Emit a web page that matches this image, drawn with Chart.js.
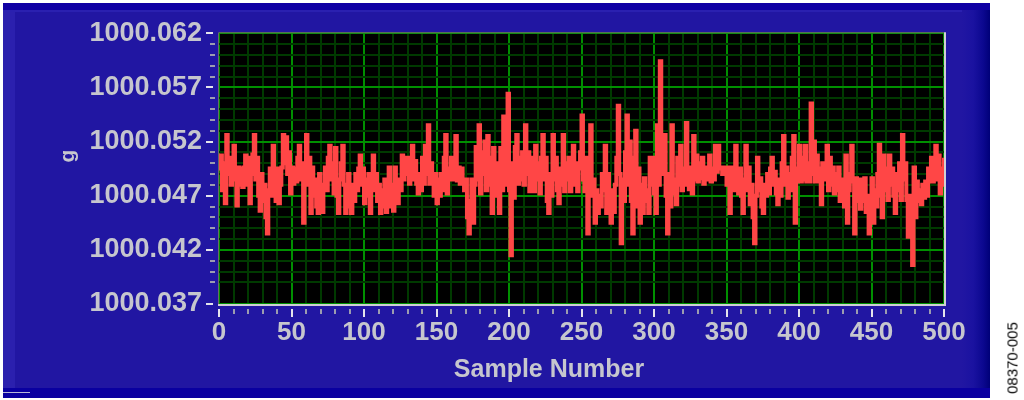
<!DOCTYPE html>
<html>
<head>
<meta charset="utf-8">
<script src="https://cdn.jsdelivr.net/npm/chart.js@4/dist/chart.umd.min.js"></script>
<style>
  html,body{margin:0;padding:0;background:#fff;}
  #wrap{position:relative;width:1024px;height:400px;overflow:hidden;}
  .blk{position:absolute;}
  #code{position:absolute;left:1012px;top:358px;width:0;height:0;}
  #code span{position:absolute;transform:translate(-50%,-50%) rotate(-90deg);white-space:nowrap;
    font:15px 'Liberation Sans',Arial,sans-serif;color:#000;}
</style>
</head>
<body>
<div id="wrap">
  <div class="blk" style="left:3px;top:3px;width:987px;height:395px;background:#2116A2;"></div>
  <div class="blk" style="left:3px;top:3px;width:987px;height:7px;background:#1000A4;"></div>
  <div class="blk" style="left:3px;top:10px;width:960px;height:2px;background:#2A20B0;"></div>
  <div class="blk" style="left:3px;top:12px;width:12px;height:376px;background:#2B20AE;"></div>
  <div class="blk" style="left:962px;top:10px;width:28px;height:378px;background:linear-gradient(to right,#2116A2,#1A12A0 40%,#0C0890 75%,#000078);"></div>
  <div class="blk" style="left:3px;top:388px;width:987px;height:10px;background:#0A00A0;"></div>
  <div class="blk" style="left:3px;top:392px;width:27px;height:1px;background:#B8B8D8;"></div>
  <canvas id="c" width="1024" height="400" style="position:absolute;left:0;top:0;"></canvas>
  <div id="code"><span>08370-005</span></div>
</div>
<script>
// Sample numbers (x categories)
const sampleNumbers = Array.from({length: 501}, (_, i) => i);
// Measured g values per sample
const gValues = [
1000.0495,1000.0507,1000.0475,1000.0500,1000.0463,1000.0526,1000.0490,1000.0505,1000.0480,1000.0500,
1000.0516,1000.0485,1000.0461,1000.0496,1000.0480,1000.0495,1000.0478,1000.0496,1000.0507,1000.0480,
1000.0505,1000.0463,1000.0490,1000.0508,1000.0526,1000.0485,1000.0505,1000.0470,1000.0456,1000.0490,
1000.0465,1000.0480,1000.0450,1000.0435,1000.0475,1000.0495,1000.0470,1000.0516,1000.0480,1000.0465,
1000.0495,1000.0463,1000.0480,1000.0496,1000.0526,1000.0500,1000.0524,1000.0490,1000.0510,1000.0472,
1000.0496,1000.0481,1000.0495,1000.0483,1000.0505,1000.0516,1000.0485,1000.0500,1000.0445,1000.0495,
1000.0526,1000.0480,1000.0505,1000.0454,1000.0496,1000.0470,1000.0485,1000.0460,1000.0454,1000.0490,
1000.0470,1000.0455,1000.0480,1000.0496,1000.0475,1000.0505,1000.0516,1000.0485,1000.0500,1000.0472,
1000.0514,1000.0470,1000.0454,1000.0485,1000.0500,1000.0516,1000.0480,1000.0454,1000.0475,1000.0490,
1000.0460,1000.0454,1000.0480,1000.0465,1000.0490,1000.0475,1000.0495,1000.0507,1000.0480,1000.0495,
1000.0463,1000.0485,1000.0470,1000.0490,1000.0454,1000.0480,1000.0507,1000.0475,1000.0490,1000.0465,
1000.0480,1000.0454,1000.0475,1000.0460,1000.0485,1000.0455,1000.0470,1000.0496,1000.0460,1000.0480,
1000.0456,1000.0496,1000.0470,1000.0463,1000.0485,1000.0475,1000.0507,1000.0485,1000.0505,1000.0490,
1000.0505,1000.0481,1000.0500,1000.0516,1000.0485,1000.0502,1000.0481,1000.0472,1000.0490,1000.0475,
1000.0505,1000.0481,1000.0516,1000.0490,1000.0535,1000.0481,1000.0500,1000.0486,1000.0470,1000.0490,
1000.0463,1000.0485,1000.0470,1000.0490,1000.0475,1000.0505,1000.0526,1000.0472,1000.0495,1000.0485,
1000.0505,1000.0490,1000.0485,1000.0525,1000.0484,1000.0496,1000.0481,1000.0495,1000.0485,1000.0475,
1000.0485,1000.0450,1000.0435,1000.0465,1000.0485,1000.0445,1000.0480,1000.0515,1000.0485,1000.0535,
1000.0472,1000.0510,1000.0490,1000.0520,1000.0475,1000.0525,1000.0480,1000.0505,1000.0454,1000.0514,
1000.0470,1000.0500,1000.0485,1000.0454,1000.0514,1000.0475,1000.0543,1000.0480,1000.0520,1000.0564,
1000.0475,1000.0415,1000.0500,1000.0468,1000.0515,1000.0526,1000.0481,1000.0505,1000.0485,1000.0510,
1000.0480,1000.0535,1000.0490,1000.0510,1000.0474,1000.0505,1000.0485,1000.0474,1000.0516,1000.0485,
1000.0500,1000.0472,1000.0505,1000.0526,1000.0485,1000.0505,1000.0465,1000.0454,1000.0490,1000.0470,
1000.0526,1000.0485,1000.0505,1000.0475,1000.0463,1000.0495,1000.0480,1000.0526,1000.0474,1000.0500,
1000.0485,1000.0505,1000.0474,1000.0495,1000.0516,1000.0480,1000.0500,1000.0474,1000.0495,1000.0510,
1000.0544,1000.0485,1000.0474,1000.0505,1000.0435,1000.0490,1000.0535,1000.0470,1000.0485,1000.0445,
1000.0475,1000.0454,1000.0470,1000.0460,1000.0490,1000.0475,1000.0516,1000.0454,1000.0490,1000.0470,
1000.0445,1000.0475,1000.0455,1000.0480,1000.0505,1000.0553,1000.0490,1000.0426,1000.0485,1000.0465,
1000.0510,1000.0544,1000.0480,1000.0520,1000.0465,1000.0435,1000.0505,1000.0530,1000.0460,1000.0495,
1000.0445,1000.0480,1000.0454,1000.0486,1000.0465,1000.0475,1000.0454,1000.0505,1000.0480,1000.0505,
1000.0472,1000.0454,1000.0535,1000.0480,1000.0594,1000.0520,1000.0490,1000.0526,1000.0470,1000.0435,
1000.0490,1000.0460,1000.0535,1000.0485,1000.0472,1000.0462,1000.0505,1000.0480,1000.0516,1000.0475,
1000.0495,1000.0480,1000.0537,1000.0490,1000.0476,1000.0496,1000.0472,1000.0525,1000.0485,1000.0507,
1000.0483,1000.0500,1000.0486,1000.0505,1000.0481,1000.0496,1000.0485,1000.0490,1000.0507,1000.0483,
1000.0495,1000.0485,1000.0516,1000.0492,1000.0516,1000.0495,1000.0496,1000.0490,1000.0496,1000.0492,
1000.0480,1000.0496,1000.0454,1000.0485,1000.0496,1000.0475,1000.0516,1000.0480,1000.0472,1000.0495,
1000.0470,1000.0454,1000.0485,1000.0516,1000.0475,1000.0496,1000.0462,1000.0480,1000.0450,1000.0426,
1000.0470,1000.0505,1000.0475,1000.0486,1000.0460,1000.0454,1000.0480,1000.0470,1000.0490,1000.0472,
1000.0495,1000.0505,1000.0480,1000.0492,1000.0472,1000.0462,1000.0485,1000.0470,1000.0500,1000.0525,
1000.0480,1000.0496,1000.0468,1000.0490,1000.0475,1000.0505,1000.0525,1000.0445,1000.0495,1000.0483,
1000.0516,1000.0483,1000.0505,1000.0485,1000.0516,1000.0483,1000.0500,1000.0483,1000.0555,1000.0490,
1000.0520,1000.0483,1000.0507,1000.0483,1000.0495,1000.0462,1000.0500,1000.0485,1000.0496,1000.0516,
1000.0475,1000.0505,1000.0480,1000.0496,1000.0472,1000.0490,1000.0475,1000.0496,1000.0465,1000.0485,
1000.0470,1000.0460,1000.0507,1000.0445,1000.0475,1000.0490,1000.0516,1000.0483,1000.0435,1000.0486,
1000.0465,1000.0485,1000.0458,1000.0485,1000.0465,1000.0486,1000.0455,1000.0470,1000.0435,1000.0460,
1000.0486,1000.0445,1000.0475,1000.0460,1000.0490,1000.0517,1000.0470,1000.0450,1000.0507,1000.0475,
1000.0495,1000.0466,1000.0507,1000.0480,1000.0495,1000.0470,1000.0454,1000.0490,1000.0475,1000.0500,
1000.0466,1000.0526,1000.0485,1000.0500,1000.0466,1000.0432,1000.0470,1000.0440,1000.0406,1000.0496,
1000.0450,1000.0483,1000.0465,1000.0475,1000.0462,1000.0480,1000.0468,1000.0483,1000.0470,1000.0495,
1000.0483,1000.0505,1000.0483,1000.0500,1000.0516,1000.0485,1000.0507,1000.0472,1000.0495,1000.0480,
1000.0505
];
// Axis settings
const xMin = 0, xMax = 500, xMinorStep = 10, xMajorStep = 50;
const yMin = 1000.037, yMax = 1000.062, yMinorStep = 0.001, yMajorEvery = 5;
const xTitle = 'Sample Number';
const yTitle = 'g';

const FONT = "'Liberation Sans', Arial, sans-serif";
const LABEL = '#C6C6CE';
const MAJOR = '#009000';
const MINOR = '#003A00';

function yIdx(v){ return Math.round((v - yMin) / yMinorStep); }
function isYMajor(v){ return yIdx(v) % yMajorEvery === 0; }
function isXMajor(v){ return Math.round(v) % xMajorStep === 0; }

const plotBg = {
  id: 'plotBg',
  beforeDraw(chart){
    const {ctx, chartArea: a} = chart;
    ctx.save();
    ctx.fillStyle = '#000000';
    ctx.fillRect(a.left, a.top, a.right - a.left, a.bottom - a.top);
    ctx.restore();
  }
};

const decor = {
  id: 'decor',
  afterDraw(chart){
    const {ctx, chartArea: a, scales: {x, y}} = chart;
    ctx.save();
    // frame
    ctx.lineWidth = 1;
    ctx.strokeStyle = '#6A6A6A';
    ctx.beginPath();
    ctx.moveTo(a.left - 0.5, a.bottom); ctx.lineTo(a.left - 0.5, a.top - 0.5); ctx.lineTo(a.right, a.top - 0.5);
    ctx.stroke();
    ctx.lineWidth = 2;
    ctx.strokeStyle = '#CFCFD4';
    ctx.beginPath();
    ctx.moveTo(a.left - 1, a.bottom + 1); ctx.lineTo(a.right + 1, a.bottom + 1); ctx.lineTo(a.right + 1, a.top - 1);
    ctx.stroke();
    // tick marks
    ctx.lineWidth = 2;
    x.ticks.forEach(t => {
      const px = Math.round(x.getPixelForValue(t.value));
      const maj = isXMajor(t.value);
      ctx.strokeStyle = maj ? '#E4E4EC' : '#9C9CB0';
      ctx.beginPath();
      ctx.moveTo(px, a.bottom + 5);
      ctx.lineTo(px, a.bottom + (maj ? 13 : 10));
      ctx.stroke();
    });
    y.ticks.forEach(t => {
      const py = Math.round(y.getPixelForValue(t.value));
      const maj = isYMajor(t.value);
      ctx.strokeStyle = maj ? '#E4E4EC' : '#9C9CB0';
      ctx.beginPath();
      ctx.moveTo(a.left - (maj ? 13 : 9), py);
      ctx.lineTo(a.left - (maj ? 6 : 4), py);
      ctx.stroke();
    });
    // titles
    ctx.fillStyle = LABEL;
    ctx.textAlign = 'center';
    ctx.textBaseline = 'middle';
    ctx.font = 'bold 25px ' + FONT;
    ctx.fillText(xTitle, 549, 370);
    ctx.save();
    ctx.translate(68, 156);
    ctx.rotate(-Math.PI / 2);
    ctx.font = 'bold 21px ' + FONT;
    ctx.fillText(yTitle, 0, 0);
    ctx.restore();
    ctx.restore();
  }
};

new Chart(document.getElementById('c'), {
  type: 'line',
  data: {
    datasets: [{
      data: sampleNumbers.map((n, i) => ({x: n, y: gValues[i]})),
      borderColor: '#FF4646',
      borderWidth: 4,
      stepped: true,
      pointRadius: 0,
      fill: false
    }]
  },
  options: {
    responsive: false,
    animation: false,
    devicePixelRatio: 1,
    layout: {padding: {left: 0, top: 26, right: 80, bottom: 0}},
    plugins: {legend: {display: false}, tooltip: {enabled: false}},
    scales: {
      x: {
        type: 'linear', min: xMin, max: xMax,
        afterFit(s){ s.height = 96; },
        border: {display: false},
        grid: {
          drawTicks: false,
          color: c => isXMajor(c.tick.value) ? MAJOR : MINOR,
          lineWidth: 2
        },
        ticks: {
          stepSize: xMinorStep, autoSkip: false, maxRotation: 0, padding: 13,
          color: LABEL, font: {family: FONT, size: 26, weight: 'bold'},
          callback: v => isXMajor(v) ? String(Math.round(v)) : ''
        }
      },
      y: {
        type: 'linear', min: yMin, max: yMax,
        afterFit(s){ s.width = 219; },
        border: {display: false},
        grid: {
          drawTicks: false,
          color: c => isYMajor(c.tick.value) ? MAJOR : MINOR,
          lineWidth: 2
        },
        ticks: {
          stepSize: yMinorStep, autoSkip: false, padding: 17,
          color: LABEL, font: {family: FONT, size: 27, weight: 'bold'},
          callback: v => isYMajor(v) ? (yMin + yIdx(v) * yMinorStep).toFixed(3) : ''
        }
      }
    }
  },
  plugins: [plotBg, decor]
});
</script>
</body>
</html>
